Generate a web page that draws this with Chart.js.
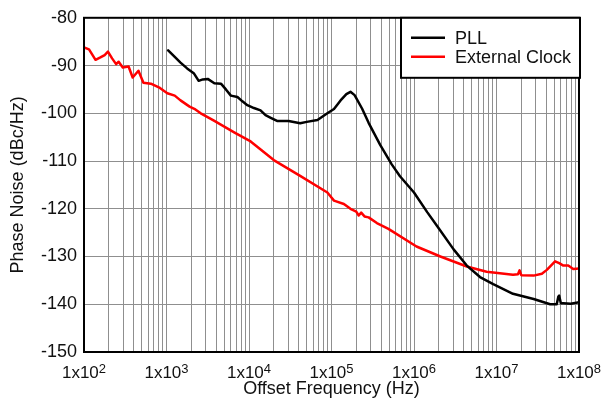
<!DOCTYPE html>
<html>
<head>
<meta charset="utf-8">
<script src="https://cdn.jsdelivr.net/npm/chart.js@4/dist/chart.umd.min.js"></script>
<style>
  html, body { margin: 0; padding: 0; background: #fff; }
  #wrap { width: 604px; height: 405px; }
</style>
</head>
<body>
<div id="wrap"><canvas id="c" width="604" height="405"></canvas></div>
<script>
// Phase noise of the PLL output versus an external clock (dBc/Hz)
const pllFreq = [1047, 1259, 1479, 1778, 2138, 2455, 2754, 3162, 3802, 4571, 5248, 6026, 7244, 8318, 9550,
  11480, 13800, 15850, 18620, 21880, 30200, 41690, 50120, 67610, 89130, 107200, 128800, 151400, 169800,
  190500, 234400, 281800, 389000, 537000, 676100, 1000000, 1445000, 1905000, 3020000, 4365000, 6310000,
  9120000, 15850000, 28180000, 44670000, 53700000, 56230000, 57540000, 60260000, 64570000, 79430000, 100000000];
const pllNoise = [-86.8, -88.2, -89.4, -90.6, -91.6, -93.2, -92.9, -92.8, -93.7, -93.8, -95.0, -96.3, -96.6, -97.5, -98.3,
  -98.9, -99.4, -100.4, -101.0, -101.6, -101.6, -102.1, -101.8, -101.4, -100.0, -99.1, -97.3, -96.0, -95.5,
  -96.2, -99.0, -102.0, -106.6, -110.7, -113.2, -116.6, -120.7, -123.6, -128.5, -131.9, -134.3,
  -135.8, -137.8, -138.9, -140.0, -140.0, -138.4, -138.2, -139.8, -139.8, -139.9, -139.6];

const extFreq = [100, 115, 138, 158, 178, 195, 219, 245, 263, 295, 347, 389, 457, 525, 646, 832, 1023, 1259,
  1479, 1905, 2239, 2600, 3715, 6607, 10470, 19950, 41690, 89130, 107200, 141300, 169800, 199500, 213800,
  229100, 251200, 281800, 354800, 489800, 1072000, 2089000, 4365000, 7586000, 15850000, 18200000, 19050000,
  19950000, 28180000, 35480000, 40740000, 51290000, 57540000, 64570000, 74130000, 85110000, 100000000];
const extNoise = [-86.2, -86.6, -88.8, -88.3, -87.8, -87.1, -88.5, -89.7, -89.2, -90.4, -90.2, -92.5, -91.1, -93.6, -93.8, -94.7, -95.8, -96.3,
  -97.3, -98.6, -99.2, -100.0, -101.5, -104.0, -105.9, -109.8, -113.1, -116.6, -118.3, -119.0, -120.0, -120.6, -121.4,
  -120.8, -121.6, -121.8, -123.0, -124.2, -127.9, -130.0, -132.1, -133.2, -133.8, -133.7, -132.9,
  -133.9, -134.0, -133.6, -132.8, -131.0, -131.4, -131.9, -131.9, -132.6, -132.5];

const decadeExponents = [2, 3, 4, 5, 6, 7, 8];
const yTicks = [-150, -140, -130, -120, -110, -100, -90, -80];

const FONT = "'Liberation Sans', Arial, Helvetica, sans-serif";

const toPoints = (xs, ys) => xs.map((x, i) => ({ x: x, y: ys[i] }));

// every 1..9 x 10^n position gets a grid line
const gridValues = [];
decadeExponents.forEach((e, i) => {
  const base = Math.pow(10, e);
  if (i === decadeExponents.length - 1) { gridValues.push(base); return; }
  for (let k = 1; k <= 9; k++) gridValues.push(k * base);
});

const decoration = {
  id: 'decoration',
  afterDatasetsDraw(chart) {
    const { ctx, chartArea: a } = chart;
    ctx.save();
    ctx.strokeStyle = '#000';
    ctx.lineWidth = 2;
    ctx.strokeRect(a.left, a.top, a.right - a.left, a.bottom - a.top);
    ctx.restore();
  },
  afterDraw(chart) {
    const { ctx, chartArea: a } = chart;
    const xs = chart.scales.x;
    ctx.save();
    // decade labels with superscript exponent
    ctx.fillStyle = '#111';
    ctx.textBaseline = 'alphabetic';
    decadeExponents.forEach(e => {
      const px = xs.getPixelForValue(Math.pow(10, e));
      ctx.font = '17px ' + FONT;
      const mainTxt = '1x10';
      const wm = ctx.measureText(mainTxt).width;
      ctx.font = '13px ' + FONT;
      const supTxt = String(e);
      const ws = ctx.measureText(supTxt).width;
      const x0 = px - (wm + ws) / 2;
      ctx.font = '17px ' + FONT;
      ctx.textAlign = 'left';
      ctx.fillText(mainTxt, x0, 377.5);
      ctx.font = '13px ' + FONT;
      ctx.fillText(supTxt, x0 + wm, 372.5);
    });

    // legend box in the upper right corner
    const bx = 401, by = a.top, bw = a.right + 1 - bx, bh = 60;
    ctx.fillStyle = '#fff';
    ctx.fillRect(bx, by, bw, bh);
    ctx.strokeStyle = '#000';
    ctx.lineWidth = 2;
    ctx.strokeRect(bx, by, bw, bh);
    chart.data.datasets.forEach((ds, i) => {
      const y = by + 20 + i * 19;
      ctx.strokeStyle = ds.borderColor;
      ctx.lineWidth = 2.5;
      ctx.beginPath();
      ctx.moveTo(411, y);
      ctx.lineTo(445, y);
      ctx.stroke();
      ctx.fillStyle = '#111';
      ctx.font = '18px ' + FONT;
      ctx.textAlign = 'left';
      ctx.textBaseline = 'middle';
      ctx.fillText(ds.label, 455, y + 1);
    });
    ctx.restore();
  }
};

new Chart(document.getElementById('c'), {
  type: 'line',
  data: {
    datasets: [
      { label: 'PLL', data: toPoints(pllFreq, pllNoise), borderColor: '#000000', borderWidth: 2.5 },
      { label: 'External Clock', data: toPoints(extFreq, extNoise), borderColor: '#ff0000', borderWidth: 2.5 }
    ]
  },
  options: {
    responsive: false,
    animation: false,
    devicePixelRatio: 1,
    layout: { padding: { top: 13, right: 25, left: 0, bottom: 0 } },
    elements: { point: { radius: 0 }, line: { tension: 0, borderJoinStyle: 'round', borderCapStyle: 'round' } },
    plugins: { legend: { display: false }, tooltip: { enabled: false } },
    scales: {
      x: {
        type: 'logarithmic',
        min: 100,
        max: 100000000,
        afterBuildTicks(scale) { scale.ticks = gridValues.map(v => ({ value: v })); },
        afterFit(scale) { scale.height = 53; },
        ticks: { display: false, autoSkip: false },
        grid: { color: '#8f8f8f', lineWidth: 1, drawTicks: false },
        border: { display: false },
        title: {
          display: true, text: 'Offset Frequency (Hz)', color: '#111',
          font: { family: FONT, size: 18 }, padding: { top: 0, bottom: 5 }
        }
      },
      y: {
        min: -150,
        max: -80,
        afterBuildTicks(scale) { scale.ticks = yTicks.map(v => ({ value: v })); },
        afterFit(scale) { scale.width = 84; },
        ticks: { color: '#111', font: { family: FONT, size: 18 }, padding: 7 },
        grid: { color: '#8f8f8f', lineWidth: 1, drawTicks: false },
        border: { display: false },
        title: {
          display: true, text: 'Phase Noise (dBc/Hz)', color: '#111',
          font: { family: FONT, size: 18 }, padding: { top: 7, bottom: 0 }
        }
      }
    }
  },
  plugins: [decoration]
});
</script>
</body>
</html>
